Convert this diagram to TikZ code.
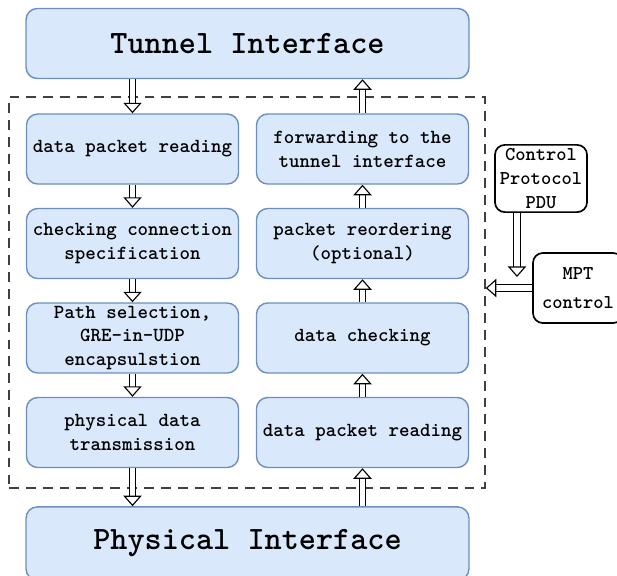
\documentclass[tikz,border=0pt]{standalone}
\usepackage{fontspec}
\newfontfamily\boxfont{lmmonolt10-bold.otf}
\usetikzlibrary{arrows.meta}
\definecolor{boxfill}{HTML}{DAE8FC}
\definecolor{boxline}{HTML}{6C8EBF}
\tikzset{
	stage/.style={draw=boxline, fill=boxfill, line width=1pt, rounded corners=8pt, align=center, inner sep=2pt,
		font=\boxfont\fontsize{14.2}{17}\selectfont, minimum height=1.75cm},
	layer/.style={stage, minimum width=11.07cm, font=\boxfont\fontsize{23.2}{26}\selectfont},
	ctrl/.style={draw, fill=white, line width=1.2pt, rounded corners=7pt, align=center, inner sep=1pt,
		font=\boxfont\fontsize{13.9}{17}\selectfont},
	hollow/.style={draw=black, line width=0.8pt, double=white, double distance=3.6pt,
		-{Triangle[fill=white, length=7.5pt, width=13pt, line width=0.8pt]}},
}
\begin{document}
\begin{tikzpicture}[x=0.025cm, y=-0.025cm]
	\useasboundingbox (0,0) rectangle (617,575);
	
	% outer frame
	\node[draw=black!75, line width=1pt, dash pattern=on 7pt off 5pt, minimum width=11.9cm, minimum height=9.78cm, inner sep=0pt] (core) at (247,292.5) {};
	
	\node[layer] (tunnel) at (247.5,43.5) {Tunnel Interface};
	\node[layer, minimum height=1.83cm] (phys) at (247.5,543.5) {Physical Interface};
	
	% sending side
	\node[stage, minimum width=5.3cm] (sread) at (132.5,149) {data packet reading};
	\node[stage, minimum width=5.3cm] (scheck) at (132.5,243.5) {checking connection\\specification};
	\node[stage, minimum width=5.3cm] (spath) at (132.5,338) {Path selection,\\GRE-in-UDP\\encapsulstion};
	\node[stage, minimum width=5.3cm] (ssend) at (132.5,432.5) {physical data\\transmission};
	
	% receiving side
	\node[stage, minimum width=5.3cm] (rfwd) at (362.5,149) {forwarding to the\\tunnel interface};
	\node[stage, minimum width=5.3cm] (rorder) at (362.5,243.5) {packet reordering\\(optional)};
	\node[stage, minimum width=5.3cm] (rcheck) at (362.5,338) {data checking};
	\node[stage, minimum width=5.3cm] (rread) at (362.5,432.5) {data packet reading};
	
	% control
	\node[ctrl, minimum width=2.3cm, minimum height=1.68cm] (pdu) at (541,178.5) {Control\\Protocol\\PDU};
	\node[ctrl, minimum width=2.25cm, minimum height=1.75cm, font=\boxfont\fontsize{13.9}{21}\selectfont] (mpt) at (578,288) {MPT\\control};
	\coordinate (pduend) at (517,277);
	
	\draw[hollow] (tunnel.south -| sread.north) -- (sread.north);
	\draw[hollow] (sread) -- (scheck);
	\draw[hollow] (scheck) -- (spath);
	\draw[hollow] (spath) -- (ssend);
	\draw[hollow] (ssend) -- (ssend.south |- phys.north);
	
	\draw[hollow] (phys.north -| rread.south) -- (rread.south);
	\draw[hollow] (rread) -- (rcheck);
	\draw[hollow] (rcheck) -- (rorder);
	\draw[hollow] (rorder) -- (rfwd);
	\draw[hollow] (rfwd) -- (rfwd.north |- tunnel.south);
	
	\draw[hollow] (pdu.south -| pduend) -- (pduend);
	\draw[hollow] (mpt.west) -- (mpt.west -| core.east);
\end{tikzpicture}
\end{document}
